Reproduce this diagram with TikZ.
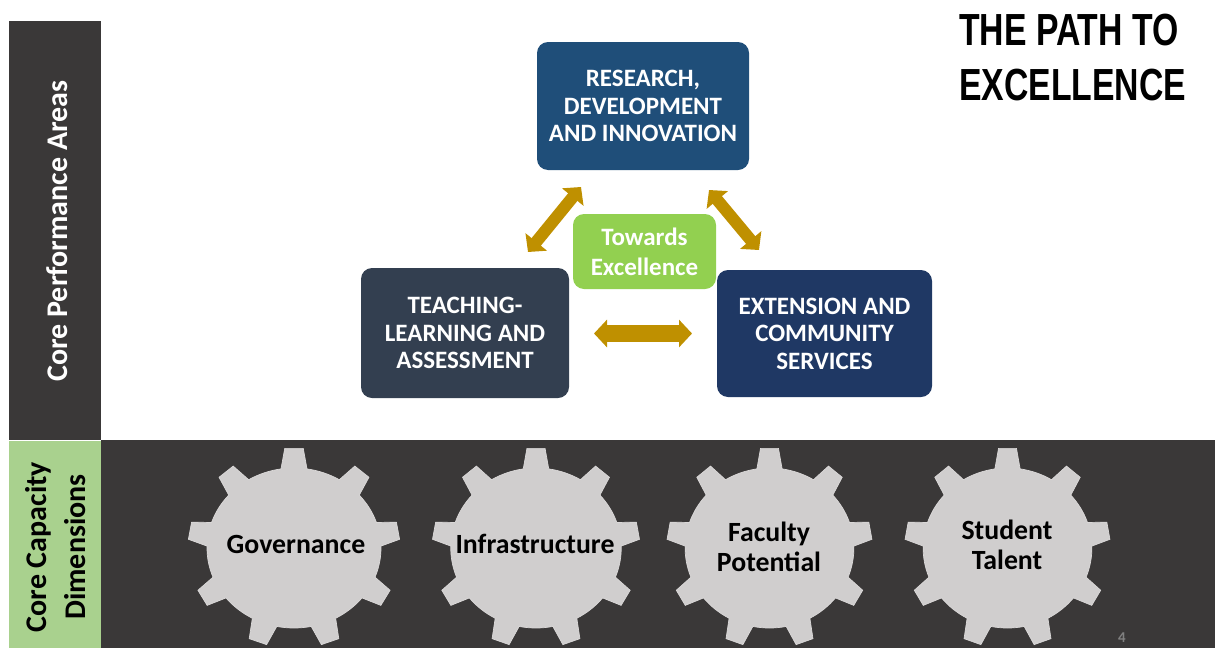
\documentclass[tikz,border=0pt]{standalone}
\usepackage{fontspec}
\setmainfont{Carlito}
\newfontfamily\titlefont[FakeStretch=0.75]{Liberation Sans}
\usetikzlibrary{arrows.meta}

\definecolor{bandgrey}{HTML}{3A3838}
\definecolor{bandgreen}{HTML}{A9D18E}
\definecolor{cogfill}{HTML}{D0CECE}
\definecolor{researchblue}{HTML}{1F4E79}
\definecolor{teachslate}{HTML}{333F50}
\definecolor{extensionblue}{HTML}{1F3864}
\definecolor{towardsgreen}{HTML}{92D050}
\definecolor{arrowgold}{HTML}{BF9000}

% one cog, nine teeth, centred at x = #1, squeezed sideways by #2
\newcommand{\cogwheel}[2]{
  \begin{scope}[shift={(#1,548)}, xscale=#2]
    \draw[cogfill!80!white, fill=cogfill, line width=0.7pt]
      (81.4:87pt and 80pt)
      \foreach \k [evaluate=\k as \a using 90+40*\k] in {0,...,8} {
        -- ({\a-5}:106pt and 100pt) -- ({\a+5}:106pt and 100pt)
        -- ({\a+8.6}:87pt and 80pt)
        arc[start angle=\a+8.6, end angle=\a+31.4, x radius=87pt, y radius=80pt]
      } -- cycle;
  \end{scope}
}

\begin{document}
\begin{tikzpicture}[x=1pt, y=-1pt,
    perfbox/.style={rounded corners=11pt, text=white, align=center, inner sep=0pt,
      font=\fontsize{25}{27.5}\selectfont\bfseries},
    sidelabel/.style={rotate=90, align=center, font=\fontsize{30}{39}\selectfont\bfseries},
    coglabel/.style={align=center, text=black, font=\fontsize{27.8}{30}\selectfont\bfseries},
    linkarrow/.style={arrowgold, line width=#1, {Triangle[length=13pt, width=27pt]}-{Triangle[length=13pt, width=27pt]}}]
  \useasboundingbox (0,0) rectangle (1215,648);

  % bands
  \fill[bandgrey] (9,21) rectangle (101,440);
  \fill[bandgrey] (101,440) rectangle (1215,648);
  \fill[bandgreen] (9,441) rectangle (101,648);
  \node[sidelabel, text=white] (perf) at (57,231) {Core Performance Areas};
  \node[sidelabel, text=black] (capa) at (56,547) {Core Capacity\\Dimensions};

  % title
  \node[anchor=west, align=left, inner sep=0pt, text=black, font=\fontsize{45}{55}\selectfont\titlefont\bfseries] (title) at (959,58) {THE PATH TO\\EXCELLENCE};

  % performance areas
  \node[perfbox, fill=researchblue, minimum width=212pt, minimum height=128pt] (research) at (643,106) {RESEARCH,\\DEVELOPMENT\\AND INNOVATION};
  \node[perfbox, fill=teachslate, minimum width=208pt, minimum height=130pt] (teaching) at (465,333) {TEACHING-\\LEARNING AND\\ASSESSMENT};
  \node[perfbox, fill=extensionblue, minimum width=215pt, minimum height=127pt] (extension) at (824.5,333.5) {EXTENSION AND\\COMMUNITY\\SERVICES};
  \node[perfbox, fill=towardsgreen, minimum width=143pt, minimum height=75pt, font=\fontsize{25}{30}\selectfont\bfseries] (towards) at (644.5,251.5) {Towards\\Excellence};

  % arrows between the areas
  \coordinate (ta) at (528,252);
  \coordinate (tb) at (581,187);
  \coordinate (ea) at (709,190);
  \coordinate (eb) at (759,250);
  \coordinate (ha) at (594,333.5);
  \coordinate (hb) at (692,333.5);
  \draw[linkarrow=12pt] (ta) -- (tb);
  \draw[linkarrow=12pt] (ea) -- (eb);
  \draw[linkarrow=17pt] (ha) -- (hb);

  % capacity dimensions
  \cogwheel{294}{1}
  \cogwheel{536}{0.98}
  \cogwheel{769.5}{0.97}
  \cogwheel{1007.5}{0.97}
  \node[coglabel] (gov) at (296,544) {Governance};
  \node[coglabel] (infra) at (535,544) {Infrastructure};
  \node[coglabel] (faculty) at (769,547) {Faculty\\Potential};
  \node[coglabel] (student) at (1007,545) {Student\\Talent};

  \node[text=gray, font=\fontsize{15}{17}\selectfont\bfseries] (pagenum) at (1122,638) {4};
\end{tikzpicture}
\end{document}
